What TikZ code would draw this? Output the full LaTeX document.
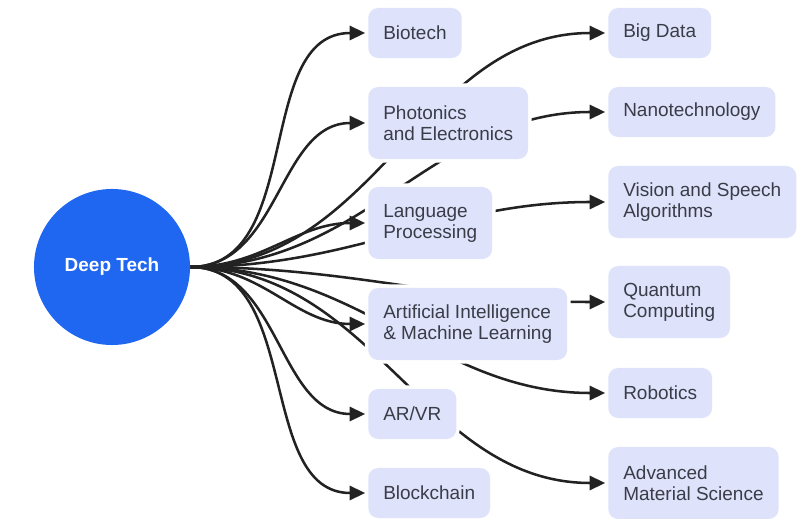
\documentclass[tikz,border=0pt]{standalone}
\usepackage{fontspec}
\setmainfont{Liberation Sans}
\usetikzlibrary{arrows.meta,backgrounds}
\definecolor{hubblue}{RGB}{31,102,240}
\definecolor{boxfill}{RGB}{222,226,250}
\definecolor{boxtext}{RGB}{58,60,72}
\definecolor{linkgray}{RGB}{34,34,34}
\begin{document}
\begin{tikzpicture}[x=0.025cm,y=-0.025cm,
        topic/.style={anchor=west,fill=boxfill,preaction={draw=white,line width=5pt},
            rounded corners=0.25cm,text=boxtext,align=left,inner xsep=0.375cm,
            minimum height=1.25cm,font=\fontsize{13.5}{14.9}\selectfont},
        twoline/.style={minimum height=1.8cm},
        link/.style={linkgray,line width=1.8pt,-{Triangle[length=11pt,width=10pt]},
            shorten >=2pt,out=0,in=180}]
    \useasboundingbox (0,0) rectangle (798,519);
    \node[circle,fill=hubblue,minimum size=3.9cm,text=white,
        font=\bfseries\fontsize{13.5}{14.9}\selectfont] (deep) at (112,267) {Deep Tech};
    \node[topic] (bio) at (368,33) {Biotech};
    \node[topic,twoline] (photo) at (368,123) {Photonics\\and Electronics};
    \node[topic,twoline] (lang) at (368,223) {Language\\Processing};
    \node[topic,twoline] (ai) at (368,324) {Artificial Intelligence\\\& Machine Learning};
    \node[topic] (arvr) at (368,414) {AR/VR};
    \node[topic] (chain) at (368,493) {Blockchain};
    \node[topic] (bigdata) at (608,33) {Big Data};
    \node[topic] (nano) at (608,112) {Nanotechnology};
    \node[topic,twoline] (vision) at (608,202) {Vision and Speech\\Algorithms};
    \node[topic,twoline] (quant) at (608,302) {Quantum\\Computing};
    \node[topic] (robot) at (608,393) {Robotics};
    \node[topic,twoline] (adv) at (608,483) {Advanced\\Material Science};
    \begin{scope}[on background layer]
        \foreach \t in {bio,photo,lang,ai,arvr,chain,bigdata,nano,vision,quant,robot,adv}
            \draw[link] (deep.east) to (\t.west);
    \end{scope}
\end{tikzpicture}
\end{document}
